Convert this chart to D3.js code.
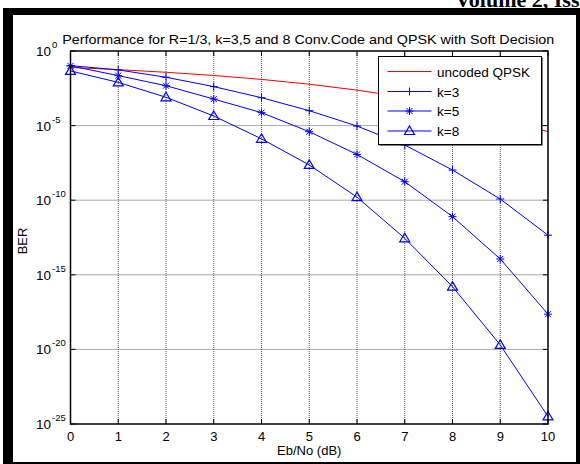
<!DOCTYPE html>
<html><head><meta charset="utf-8">
<script src="https://cdn.jsdelivr.net/npm/d3@7"></script>
<style>body{margin:0;background:#fff}svg{display:block}</style>
</head><body>
<svg id="c" width="580" height="464"></svg>
<script>
const ebno = [0,1,2,3,4,5,6,7,8,9,10];
const uncoded = [7.86e-2,5.63e-2,3.75e-2,2.29e-2,1.25e-2,5.95e-3,2.39e-3,7.73e-4,1.91e-4,3.36e-5,3.87e-6];
const k3 = [1.05e-1,5.4e-2,1.74e-2,4.1e-3,7.4e-4,1.0e-4,9.3e-6,5.0e-7,1.05e-8,1.2e-10,4.5e-13];
const k5 = [1.0e-1,2.24e-2,4.7e-3,6.0e-4,7.4e-5,3.9e-6,1.17e-7,1.74e-9,7.9e-12,1.15e-14,2.3e-18];
const k8 = [4.6e-2,7.9e-3,7.9e-4,4.4e-5,1.3e-6,2.3e-8,1.6e-10,2.8e-13,1.6e-16,2.0e-20,3.2e-25];
const xTicks = [0,1,2,3,4,5,6,7,8,9,10];
const yExponents = [0,-5,-10,-15,-20,-25];
const legendLabels = ["uncoded QPSK","k=3","k=5","k=8"];
const titleText = "Performance for R=1/3, k=3,5 and 8 Conv.Code and QPSK with Soft Decision";

const svg = d3.select("#c");
const F = "'Liberation Sans', Arial, sans-serif";
svg.append("rect").attr("width",580).attr("height",464).attr("fill","#fff");

// header text & frame
svg.append("text").attr("x",455).attr("y",7).attr("font-family","'Liberation Serif', 'Times New Roman', serif")
  .attr("font-weight","bold").attr("font-size",22).text("Volume 2, Iss");
svg.append("rect").attr("x",3).attr("y",8).attr("width",577).attr("height",7).attr("fill","#000");
svg.append("rect").attr("x",3).attr("y",8).attr("width",10).attr("height",456).attr("fill","#000");
svg.append("rect").attr("x",576).attr("y",8).attr("width",4).attr("height",456).attr("fill","#000");
svg.append("rect").attr("x",3).attr("y",462).attr("width",577).attr("height",2).attr("fill","#000");

const L=70.5, R=548, T=51, B=424;
const x = d3.scaleLinear().domain([0,10]).range([L,R]);
const y = d3.scaleLog().domain([1,1e-25]).range([T,B]);

const g = svg.append("g");
// grid
g.selectAll(".gx").data(xTicks.slice(1,-1)).join("line")
  .attr("x1",d=>x(d)).attr("x2",d=>x(d)).attr("y1",T).attr("y2",B)
  .attr("stroke","#555").attr("stroke-width",1).attr("stroke-dasharray","1,1");
g.selectAll(".gy").data(yExponents.slice(1,-1)).join("line")
  .attr("y1",d=>y(Math.pow(10,d))).attr("y2",d=>y(Math.pow(10,d))).attr("x1",L).attr("x2",R)
  .attr("stroke","#555").attr("stroke-width",1).attr("stroke-dasharray","1,1");

// ticks inside on all sides
xTicks.forEach(t=>{
  g.append("line").attr("x1",x(t)).attr("x2",x(t)).attr("y1",B).attr("y2",B-5).attr("stroke","#000");
  g.append("line").attr("x1",x(t)).attr("x2",x(t)).attr("y1",T).attr("y2",T+5).attr("stroke","#000");
  g.append("text").attr("x",x(t)).attr("y",441).attr("text-anchor","middle")
    .attr("font-family",F).attr("font-size",13).text(t);
});
yExponents.forEach(e=>{
  const yy = y(Math.pow(10,e));
  g.append("line").attr("x1",L).attr("x2",L+5).attr("y1",yy).attr("y2",yy).attr("stroke","#000");
  g.append("line").attr("x1",R).attr("x2",R-5).attr("y1",yy).attr("y2",yy).attr("stroke","#000");
  const t = g.append("text").attr("x",36).attr("y",yy+5).attr("font-family",F).attr("font-size",13.5);
  t.append("tspan").text("10");
  t.append("tspan").attr("dy",-8).attr("font-size",9.5).attr("dx",1).text(e);
});

// axis labels and title
svg.append("text").attr("x",(L+R)/2).attr("y",455).attr("text-anchor","middle")
  .attr("font-family",F).attr("font-size",13).text("Eb/No (dB)");
svg.append("text").attr("transform","translate(27,241) rotate(-90)").attr("text-anchor","middle")
  .attr("font-family",F).attr("font-size",13).text("BER");
svg.append("text").attr("x",(L+R)/2-1).attr("y",43.5).attr("text-anchor","middle")
  .attr("font-family",F).attr("font-size",13).attr("textLength",492).attr("lengthAdjust","spacingAndGlyphs").text(titleText);

// lines
const line = d3.line().x((d,i)=>x(ebno[i])).y(d=>y(d));
const series = [
  {vals:uncoded,color:"#ff0000",marker:null},
  {vals:k3,color:"#0000ff",marker:"plus"},
  {vals:k5,color:"#0000ff",marker:"star"},
  {vals:k8,color:"#0000ff",marker:"tri"}
];
function drawMarker(sel,type,cx,cy,color){
  if(type==="plus"){
    sel.append("path").attr("d",`M${cx-4},${cy}H${cx+4}M${cx},${cy-4}V${cy+4}`).attr("stroke",color).attr("fill","none");
  } else if(type==="star"){
    sel.append("path").attr("d",`M${cx-4},${cy}H${cx+4}M${cx},${cy-4}V${cy+4}M${cx-3},${cy-3}L${cx+3},${cy+3}M${cx-3},${cy+3}L${cx+3},${cy-3}`).attr("stroke",color).attr("fill","none");
  } else if(type==="tri"){
    sel.append("path").attr("d",`M${cx},${cy-5}L${cx+5},${cy+3.5}L${cx-5},${cy+3.5}Z`).attr("stroke",color).attr("fill","none").attr("stroke-width",1.2);
  }
}
series.forEach(s=>{
  g.append("path").datum(s.vals).attr("d",line).attr("fill","none").attr("stroke",s.color).attr("stroke-width",1);
  if(s.marker){
    s.vals.forEach((v,i)=>drawMarker(g,s.marker,x(ebno[i]),y(v),s.color));
  }
});

// axes box
g.append("rect").attr("x",L).attr("y",T).attr("width",R-L).attr("height",B-T).attr("fill","none").attr("stroke","#000").attr("stroke-width",1.5);

// legend
const lx=378.5, ly=56.5, lw=163, lh=88;
svg.append("rect").attr("x",lx+1).attr("y",ly+1).attr("width",lw).attr("height",lh).attr("fill","#000");
svg.append("rect").attr("x",lx).attr("y",ly).attr("width",lw).attr("height",lh).attr("fill","#fff").attr("stroke","#000").attr("stroke-width",1);
const rows=[71.5,91.5,111,131];
series.forEach((s,i)=>{
  svg.append("line").attr("x1",387.5).attr("x2",431.5).attr("y1",rows[i]).attr("y2",rows[i]).attr("stroke",s.color);
  if(s.marker) drawMarker(svg,s.marker,409.5,rows[i],s.color);
  svg.append("text").attr("x",437).attr("y",rows[i]+5).attr("font-family",F).attr("font-size",13.5).text(legendLabels[i]);
});
</script>
</body></html>
